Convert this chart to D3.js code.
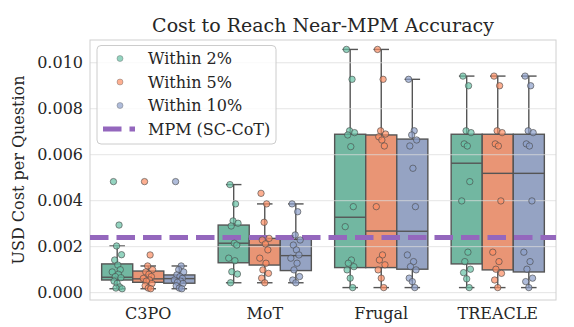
<!DOCTYPE html>
<html>
<head>
<meta charset="utf-8">
<script src="https://cdn.jsdelivr.net/npm/d3@7"></script>
<style>
  html, body { margin: 0; padding: 0; background: #fff; }
  svg { display: block; font-family: 'DejaVu Serif', serif; }
</style>
</head>
<body>
<svg id="chart" width="574" height="327"></svg>
<script>
const width = 574;
const height = 327;

const methods = ['C3PO', 'MoT', 'Frugal', 'TREACLE'];
const tolerances = ['Within 2%', 'Within 5%', 'Within 10%'];
const yTicks = [0.000, 0.002, 0.004, 0.006, 0.008, 0.010];
const mpmCost = 0.0024;

// box stats, [method][tolerance]
const whiskerLow = [
  [0.00017, 0.00017, 0.00017],
  [0.00043, 0.00043, 0.00043],
  [0.00022, 0.00022, 0.00022],
  [0.00022, 0.00022, 0.00022],
];
const q1 = [
  [0.00055, 0.00045, 0.00041],
  [0.00130, 0.00120, 0.00096],
  [0.00109, 0.00109, 0.00102],
  [0.00125, 0.00099, 0.00090],
];
const median = [
  [0.00067, 0.00060, 0.00061],
  [0.00215, 0.00207, 0.00161],
  [0.00328, 0.00268, 0.00267],
  [0.00563, 0.00519, 0.00519],
];
const q3 = [
  [0.00125, 0.00094, 0.00077],
  [0.00294, 0.00236, 0.00232],
  [0.00689, 0.00686, 0.00668],
  [0.00689, 0.00689, 0.00689],
];
const whiskerHigh = [
  [0.00203, 0.00116, 0.00116],
  [0.00470, 0.00386, 0.00386],
  [0.01058, 0.01058, 0.00928],
  [0.00942, 0.00942, 0.00942],
];

// individual questions, [method][tolerance]
const c3poPoints = [
  [0.00483, 0.00294, 0.00203, 0.00165, 0.00142, 0.00120, 0.00100, 0.00090, 0.00080, 0.00070, 0.00065, 0.00050, 0.00040, 0.00025, 0.00020, 0.00017],
  [0.00483, 0.00164, 0.00116, 0.00100, 0.00090, 0.00080, 0.00070, 0.00062, 0.00055, 0.00050, 0.00040, 0.00030, 0.00020, 0.00017],
  [0.00483, 0.00116, 0.00100, 0.00090, 0.00077, 0.00070, 0.00062, 0.00055, 0.00050, 0.00045, 0.00040, 0.00030, 0.00020, 0.00017],
];
const motPoints = [
  [0.00470, 0.00386, 0.00312, 0.00302, 0.00290, 0.00215, 0.00207, 0.00150, 0.00139, 0.00091, 0.00081, 0.00043],
  [0.00432, 0.00386, 0.00306, 0.00236, 0.00229, 0.00212, 0.00186, 0.00150, 0.00128, 0.00099, 0.00084, 0.00063, 0.00043],
  [0.00386, 0.00352, 0.00251, 0.00229, 0.00207, 0.00186, 0.00164, 0.00150, 0.00128, 0.00099, 0.00070, 0.00055, 0.00043],
];
const frugalPoints = [
  [0.01058, 0.00928, 0.00704, 0.00696, 0.00686, 0.00635, 0.00374, 0.00287, 0.00142, 0.00128, 0.00113, 0.00099, 0.00063, 0.00022],
  [0.01058, 0.00928, 0.00704, 0.00690, 0.00678, 0.00664, 0.00638, 0.00374, 0.00164, 0.00142, 0.00121, 0.00099, 0.00063, 0.00022],
  [0.00928, 0.00704, 0.00686, 0.00664, 0.00638, 0.00541, 0.00374, 0.00164, 0.00135, 0.00113, 0.00099, 0.00063, 0.00048, 0.00022],
];
const treaclePoints = [
  [0.00942, 0.00900, 0.00704, 0.00696, 0.00647, 0.00638, 0.00483, 0.00399, 0.00176, 0.00135, 0.00102, 0.00087, 0.00060, 0.00022],
  [0.00942, 0.00900, 0.00704, 0.00696, 0.00647, 0.00638, 0.00399, 0.00176, 0.00135, 0.00102, 0.00084, 0.00055, 0.00022],
  [0.00942, 0.00900, 0.00704, 0.00696, 0.00647, 0.00638, 0.00399, 0.00176, 0.00135, 0.00102, 0.00063, 0.00048, 0.00022],
];
const points = [c3poPoints, motPoints, frugalPoints, treaclePoints];

const JITTER = [-0.6, 0.3, -0.1, 0.7, -0.4, 0.1, 0.5, -0.8, 0.2, -0.3, 0.6, -0.5, 0.0, 0.4, -0.2, 0.8];

const pointColors = ['#66c2a5', '#fc8d62', '#8da0cb'];
const boxColors = ['#72b7a1', '#e99575', '#95a3c3'];
const edgeColor = '#555';
const mpmColor = '#9467bd';

const plot = { left: 90, right: 556, top: 40, bottom: 300 };

const svg = d3.select('#chart');

const x = d3.scaleBand().domain(methods).range([plot.left, plot.right]).padding(0);
const hue = d3.scaleBand().domain(tolerances)
  .range([-0.4 * x.bandwidth(), 0.4 * x.bandwidth()]).padding(0);
const y = d3.scaleLinear().domain([-0.00032, 0.01099]).range([plot.bottom, plot.top]);

const boxW = hue.bandwidth();

// boxes
const groups = [];
methods.forEach((m, i) => {
  tolerances.forEach((t, j) => groups.push({ i, j, m, t }));
});

const boxes = svg.append('g');
groups.forEach(d => {
  const cx = x(d.m) + x.bandwidth() / 2 + hue(d.t) + boxW / 2;
  const g = boxes.append('g');
  g.append('line')
    .attr('x1', cx).attr('x2', cx)
    .attr('y1', y(whiskerLow[d.i][d.j])).attr('y2', y(whiskerHigh[d.i][d.j]))
    .attr('stroke', edgeColor).attr('stroke-width', 1.4);
  [whiskerLow[d.i][d.j], whiskerHigh[d.i][d.j]].forEach(v => {
    g.append('line')
      .attr('x1', cx - boxW / 4).attr('x2', cx + boxW / 4)
      .attr('y1', y(v)).attr('y2', y(v))
      .attr('stroke', edgeColor).attr('stroke-width', 1.4);
  });
  g.append('rect')
    .attr('x', cx - boxW / 2).attr('width', boxW)
    .attr('y', y(q3[d.i][d.j])).attr('height', y(q1[d.i][d.j]) - y(q3[d.i][d.j]))
    .attr('fill', boxColors[d.j])
    .attr('stroke', edgeColor).attr('stroke-width', 1.4);
  g.append('line')
    .attr('x1', cx - boxW / 2).attr('x2', cx + boxW / 2)
    .attr('y1', y(median[d.i][d.j])).attr('y2', y(median[d.i][d.j]))
    .attr('stroke', edgeColor).attr('stroke-width', 1.4);
});

// grid (drawn over the boxes, light)
svg.append('g')
  .selectAll('line')
  .data(yTicks)
  .join('line')
  .attr('x1', plot.left).attr('x2', plot.right)
  .attr('y1', d => y(d)).attr('y2', d => y(d))
  .attr('stroke', '#dcdcdc').attr('stroke-opacity', 0.75).attr('stroke-width', 1);

// frame
svg.append('rect')
  .attr('x', plot.left).attr('y', plot.top)
  .attr('width', plot.right - plot.left).attr('height', plot.bottom - plot.top)
  .attr('fill', 'none').attr('stroke', '#d0d0d0').attr('stroke-width', 1);

// MPM reference
svg.append('line')
  .attr('x1', plot.left).attr('x2', plot.right)
  .attr('y1', y(mpmCost)).attr('y2', y(mpmCost))
  .attr('stroke', mpmColor).attr('stroke-width', 5)
  .attr('stroke-dasharray', '18.5,8');

// strip points
const dots = svg.append('g');
groups.forEach(d => {
  const cx = x(d.m) + x.bandwidth() / 2 + hue(d.t) + boxW / 2;
  dots.selectAll(null)
    .data(points[d.i][d.j])
    .join('circle')
    .attr('cx', (v, k) => cx + JITTER[k % JITTER.length] * boxW * 0.2)
    .attr('cy', v => y(v))
    .attr('r', 3.2)
    .attr('fill', pointColors[d.j]).attr('fill-opacity', 0.7)
    .attr('stroke', '#4a4a4a').attr('stroke-opacity', 0.8).attr('stroke-width', 0.8);
});

// axes
const yAxis = svg.append('g')
  .attr('transform', `translate(${plot.left},0)`)
  .call(d3.axisLeft(y).tickValues(yTicks).tickFormat(d3.format('.3f')).tickSize(0).tickPadding(7));
yAxis.select('.domain').remove();
yAxis.selectAll('text').attr('font-size', 16).attr('font-family', 'DejaVu Serif').attr('fill', '#262626');

const xAxis = svg.append('g')
  .attr('transform', `translate(0,${plot.bottom})`)
  .call(d3.axisBottom(x).tickSize(0).tickPadding(8));
xAxis.select('.domain').remove();
xAxis.selectAll('text').attr('font-size', 16).attr('font-family', 'DejaVu Serif').attr('fill', '#262626');

svg.append('text')
  .attr('transform', `translate(24,${(plot.top + plot.bottom) / 2}) rotate(-90)`)
  .attr('text-anchor', 'middle')
  .attr('font-size', 16).attr('fill', '#262626')
  .text('USD Cost per Question');

// x label sits mostly below the visible area, as in the reference
svg.append('text')
  .attr('x', (plot.left + plot.right) / 2).attr('y', 339.5)
  .attr('text-anchor', 'middle')
  .attr('font-size', 16).attr('fill', '#262626')
  .text('Method');

svg.append('text')
  .attr('x', (plot.left + plot.right) / 2).attr('y', 32)
  .attr('text-anchor', 'middle')
  .attr('font-size', 19).attr('fill', '#262626')
  .text('Cost to Reach Near-MPM Accuracy');

// legend
const legend = svg.append('g');
legend.append('rect')
  .attr('x', 97).attr('y', 45.5).attr('width', 179).attr('height', 98.5).attr('rx', 4)
  .attr('fill', '#fff').attr('fill-opacity', 0.8)
  .attr('stroke', '#cccccc').attr('stroke-width', 1);
const rowY = [58.5, 82, 105.5, 129];
tolerances.forEach((t, j) => {
  legend.append('circle')
    .attr('cx', 120).attr('cy', rowY[j]).attr('r', 3)
    .attr('fill', pointColors[j]).attr('fill-opacity', 0.7)
    .attr('stroke', edgeColor).attr('stroke-opacity', 0.6).attr('stroke-width', 0.6);
  legend.append('text')
    .attr('x', 148).attr('y', rowY[j]).attr('dy', '0.35em')
    .attr('font-size', 16).attr('fill', '#262626')
    .text(t);
});
legend.append('line')
  .attr('x1', 103).attr('x2', 135)
  .attr('y1', rowY[3]).attr('y2', rowY[3])
  .attr('stroke', mpmColor).attr('stroke-width', 5)
  .attr('stroke-dasharray', '18.5,8');
legend.append('text')
  .attr('x', 148).attr('y', rowY[3]).attr('dy', '0.35em')
  .attr('font-size', 16).attr('fill', '#262626')
  .text('MPM (SC-CoT)');
</script>
</body>
</html>
